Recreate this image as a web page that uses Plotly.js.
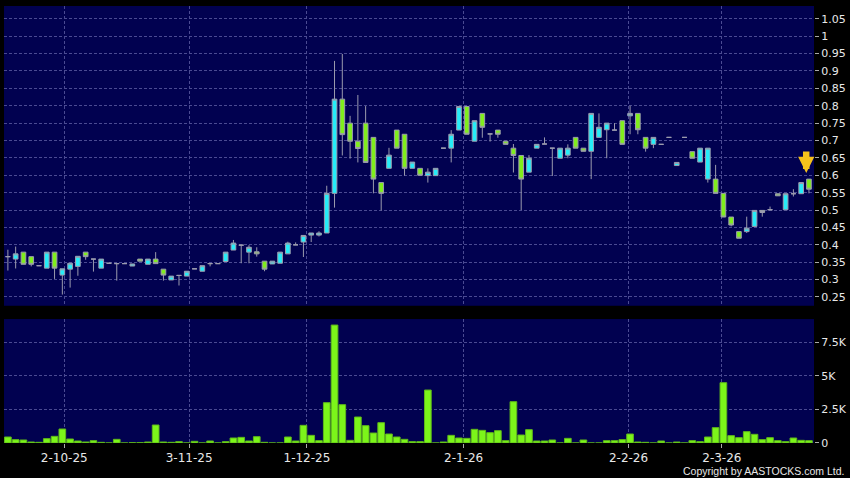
<!DOCTYPE html>
<html><head><meta charset="utf-8">
<script src="https://cdn.plot.ly/plotly-3.0.1.min.js"></script>
<style>html,body{margin:0;padding:0;background:#000;}#chart{width:850px;height:478px;}</style>
</head><body><div id="chart"></div>
<script>
// Daily candles (trading-day order)
var openP  = [0.366,0.359,0.379,0.366,0.340,0.333,0.379,0.313,0.330,0.338,
              0.379,0.359,0.333,0.347,0.346,0.346,0.339,0.359,0.344,0.359,
              0.330,0.299,0.312,0.310,0.331,0.324,0.346,0.346,0.352,0.385,
              0.399,0.379,0.380,0.353,0.345,0.347,0.374,0.400,0.408,0.428,
              0.428,0.434,0.548,0.819,0.750,0.698,0.750,0.709,0.579,0.620,
              0.730,0.718,0.620,0.620,0.599,0.599,0.678,0.678,0.730,0.798,
              0.698,0.778,0.719,0.730,0.698,0.678,0.657,0.609,0.678,0.690,
              0.678,0.649,0.658,0.709,0.678,0.669,0.709,0.731,0.730,0.757,
              0.771,0.778,0.709,0.689,0.689,0.709,0.628,0.709,0.668,0.638,
              0.589,0.589,0.548,0.480,0.438,0.438,0.453,0.499,0.501,0.547,
              0.501,0.547,0.547,0.589];
var highP  = [0.386,0.395,0.379,0.366,0.340,0.379,0.379,0.331,0.347,0.367,
              0.379,0.359,0.359,0.347,0.346,0.346,0.345,0.359,0.359,0.379,
              0.330,0.310,0.312,0.324,0.331,0.340,0.346,0.346,0.379,0.414,
              0.399,0.399,0.393,0.353,0.353,0.379,0.409,0.407,0.427,0.434,
              0.439,0.570,0.929,0.949,0.771,0.831,0.799,0.709,0.579,0.679,
              0.730,0.718,0.638,0.620,0.620,0.620,0.678,0.730,0.798,0.798,
              0.757,0.778,0.719,0.730,0.698,0.690,0.657,0.658,0.689,0.709,
              0.678,0.678,0.689,0.709,0.678,0.778,0.778,0.750,0.750,0.757,
              0.800,0.778,0.709,0.709,0.689,0.709,0.637,0.709,0.668,0.678,
              0.678,0.630,0.548,0.480,0.438,0.481,0.499,0.499,0.510,0.547,
              0.547,0.560,0.579,0.589];
var lowP   = [0.326,0.332,0.344,0.338,0.340,0.333,0.302,0.257,0.277,0.311,
              0.357,0.323,0.333,0.347,0.297,0.346,0.339,0.353,0.344,0.346,
              0.297,0.299,0.283,0.310,0.331,0.324,0.338,0.346,0.352,0.385,
              0.347,0.347,0.366,0.324,0.345,0.347,0.374,0.400,0.365,0.408,
              0.424,0.434,0.507,0.657,0.648,0.637,0.637,0.548,0.499,0.620,
              0.678,0.599,0.620,0.600,0.579,0.599,0.678,0.637,0.730,0.718,
              0.698,0.708,0.697,0.708,0.689,0.608,0.500,0.609,0.678,0.690,
              0.598,0.649,0.649,0.678,0.669,0.589,0.709,0.649,0.730,0.689,
              0.718,0.718,0.668,0.678,0.689,0.709,0.628,0.709,0.649,0.638,
              0.579,0.548,0.480,0.453,0.419,0.434,0.453,0.481,0.501,0.541,
              0.501,0.539,0.547,0.548];
var closeP = [0.366,0.374,0.344,0.344,0.340,0.379,0.333,0.331,0.347,0.367,
              0.366,0.359,0.359,0.347,0.346,0.346,0.345,0.353,0.359,0.346,
              0.313,0.310,0.312,0.324,0.331,0.340,0.346,0.346,0.379,0.405,
              0.399,0.393,0.374,0.330,0.353,0.379,0.405,0.400,0.427,0.434,
              0.434,0.548,0.819,0.717,0.698,0.677,0.637,0.589,0.548,0.658,
              0.678,0.620,0.638,0.600,0.609,0.620,0.678,0.718,0.798,0.718,
              0.757,0.738,0.719,0.718,0.689,0.657,0.589,0.649,0.689,0.690,
              0.678,0.678,0.678,0.678,0.669,0.778,0.738,0.750,0.730,0.689,
              0.778,0.731,0.678,0.709,0.689,0.709,0.637,0.709,0.649,0.678,
              0.678,0.548,0.480,0.457,0.419,0.448,0.499,0.493,0.501,0.541,
              0.547,0.547,0.579,0.560];
var volume = [445,248,223,74,50,322,495,1040,297,149,
              74,173,50,0,272,0,20,20,74,1337,
              74,50,99,0,124,0,149,0,99,371,
              420,149,470,50,0,0,445,149,1312,569,
              173,2995,8762,2846,198,1930,1287,742,1510,668,
              445,272,99,99,3935,0,74,569,371,346,
              1015,940,767,916,173,3069,594,990,149,149,
              223,0,346,0,223,0,0,173,173,248,
              668,74,50,0,149,0,74,0,173,99,
              445,1139,4480,545,396,842,644,248,396,173,
              99,371,198,173];
// Date ticks (trading-day index where each date label falls)
var tickIdx    = [7.25, 23.3, 38.45, 58.6, 79.8, 91.8];
var tickLabels = ['2-10-25','3-11-25','1-12-25','2-1-26','2-2-26','2-3-26'];
var priceTicks = [0.25,0.3,0.35,0.4,0.45,0.5,0.55,0.6,0.65,0.7,0.75,0.8,0.85,0.9,0.95,1,1.05];
var priceTickText = ['0.25','0.3','0.35','0.4','0.45','0.5','0.55','0.6','0.65','0.7','0.75','0.8','0.85','0.9','0.95','1','1.05'];
var volTicks = [0,2500,5000,7500];
var volTickText = ['0','2.5K','5K','7.5K'];

var idx = openP.map(function(_, i){ return i; });
var last = idx.length - 1;

var GRID = '#4a4a92';
var TXT = '#e8e8e8';
var FONT = 'DejaVu Sans, sans-serif';

var traces = [
  {
    type: 'candlestick', x: idx, open: openP, high: highP, low: lowP, close: closeP,
    xaxis: 'x', yaxis: 'y',
    increasing: {fillcolor: '#26ecf8', line: {color: '#9c9cae', width: 1}},
    decreasing: {fillcolor: '#80ee1c', line: {color: '#9c9cae', width: 1}},
    whiskerwidth: 0, hoverinfo: 'skip', showlegend: false
  },
  {
    type: 'bar', x: idx, y: volume, xaxis: 'x2', yaxis: 'y2',
    marker: {color: '#7cf51a', line: {color: '#5fb81a', width: 1}},
    width: 0.86, hoverinfo: 'skip', showlegend: false
  }
];

var xCommon = {
  range: [-0.5, 103.65], tickmode: 'array', tickvals: tickIdx, ticktext: tickLabels,
  showgrid: true, gridcolor: GRID, griddash: '3px,2px', gridwidth: 1,
  zeroline: false, showline: false, fixedrange: true,
  rangeslider: {visible: false}
};

var layout = {
  width: 850, height: 478,
  margin: {l: 4, r: 36, t: 6, b: 35},
  paper_bgcolor: '#000000', plot_bgcolor: '#010150',
  font: {family: FONT, color: TXT, size: 11},
  showlegend: false, boxgap: 0.14, bargap: 0.14,
  xaxis: Object.assign({}, xCommon, {anchor: 'y', showticklabels: false, ticks: ''}),
  xaxis2: Object.assign({}, xCommon, {anchor: 'y2', showticklabels: true, ticks: 'outside',
           ticklen: 4, tickcolor: '#aaaaaa', tickfont: {family: FONT, size: 12, color: TXT}}),
  yaxis: {
    domain: [0.314, 1], side: 'right', anchor: 'x', range: [0.2247, 1.0869],
    tickmode: 'array', tickvals: priceTicks, ticktext: priceTickText,
    ticks: 'outside', ticklen: 4, tickcolor: '#aaaaaa', tickfont: {family: FONT, size: 11, color: TXT},
    showgrid: true, gridcolor: GRID, griddash: '3px,2px', gridwidth: 1,
    zeroline: false, showline: false, fixedrange: true
  },
  yaxis2: {
    domain: [0, 0.2836], side: 'right', anchor: 'x2', range: [0, 9207],
    tickmode: 'array', tickvals: volTicks, ticktext: volTickText,
    ticks: 'outside', ticklen: 4, tickcolor: '#aaaaaa', tickfont: {family: FONT, size: 11, color: TXT},
    showgrid: true, gridcolor: GRID, griddash: '3px,2px', gridwidth: 1,
    zeroline: false, showline: false, fixedrange: true
  },
  annotations: [
    {
      xref: 'x', yref: 'y', x: last - 0.35, y: highP[last], yshift: 6,
      text: '', showarrow: true, ax: 0, ay: -23,
      arrowhead: 2, arrowsize: 0.5, arrowwidth: 6.5, arrowcolor: '#f7c21c'
    },
    {
      xref: 'paper', yref: 'paper', x: 1.038, y: -0.079, xanchor: 'right', yanchor: 'bottom',
      text: 'Copyright by AASTOCKS.com Ltd.', showarrow: false, borderpad: 0,
      font: {family: 'Liberation Sans, Arial, sans-serif', size: 10.5, color: TXT}
    }
  ]
};

Plotly.newPlot('chart', traces, layout, {displayModeBar: false, staticPlot: true});
</script></body></html>
